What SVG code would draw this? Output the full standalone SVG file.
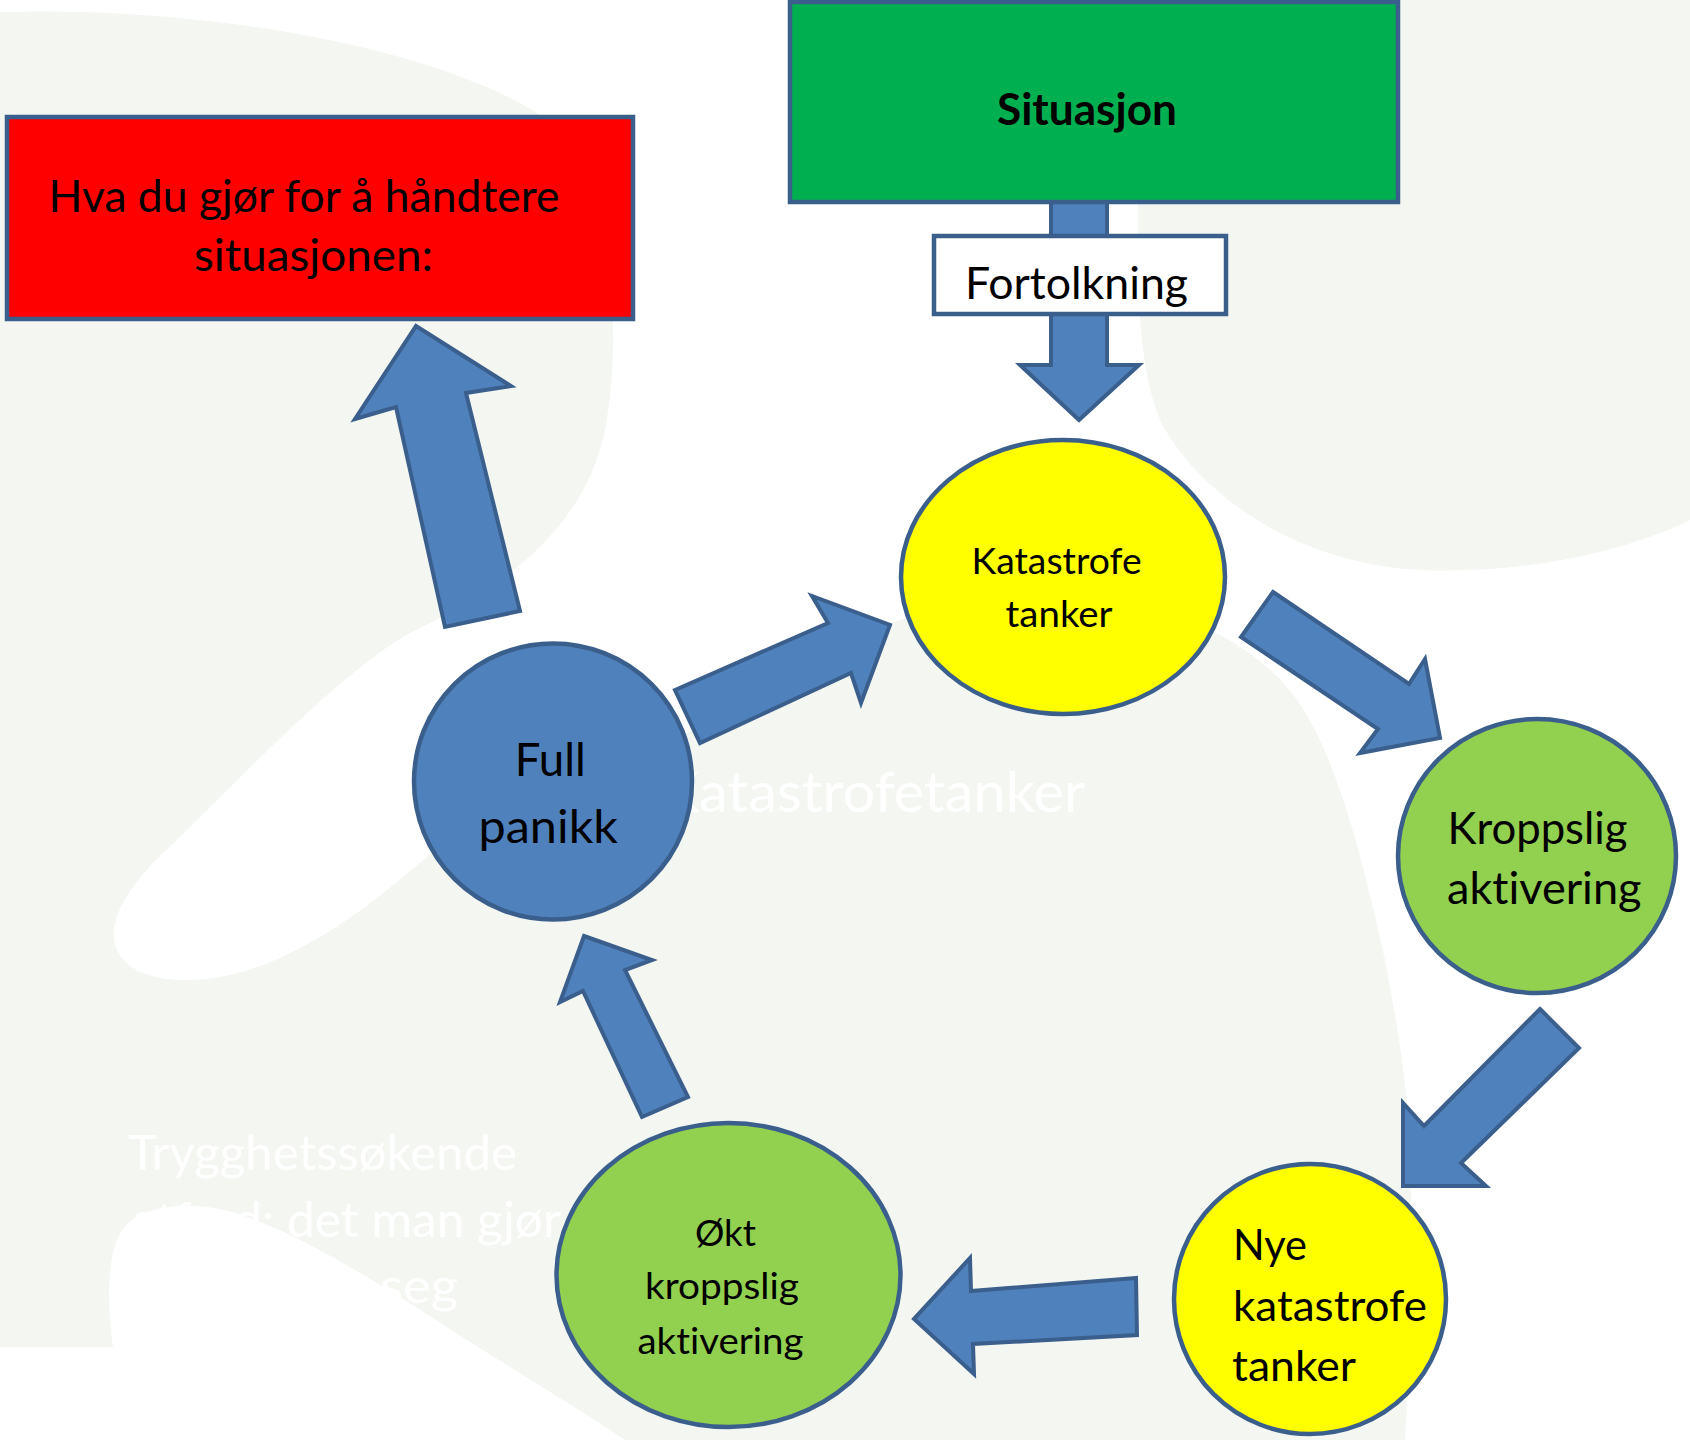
<svg xmlns="http://www.w3.org/2000/svg" width="1690" height="1440" viewBox="0 0 1690 1440">
<style>
.shape{stroke:#3b5f8c;stroke-width:4.5}
.arrow{fill:#4f81bd;stroke:#3b5f8c;stroke-width:4;stroke-linejoin:miter}
.t{font-family:Lato,"Open Sans",sans-serif;fill:#000000;font-variant-ligatures:none;font-feature-settings:"liga" 0}
.wm{font-family:Lato,"Open Sans",sans-serif;fill:#ffffff;font-variant-ligatures:none;font-feature-settings:"liga" 0}
</style>
<g id="background">
<rect x="0" y="0" width="1690" height="1440" fill="#f4f6f1"/>
<path fill="#ffffff" d="M0,0 L0,12 C200,6 430,45 540,115 C610,185 625,320 605,430 C585,530 500,590 408,634 C330,680 230,790 163,853 C125,890 100,930 122,958 C145,988 220,988 286,955 C350,925 400,880 449,838 C520,800 600,770 680,737 C770,690 850,635 920,613 C1010,585 1120,590 1200,625 C1265,655 1295,690 1315,730 C1345,790 1365,870 1385,960 C1400,1040 1410,1100 1411,1179 C1412,1280 1410,1360 1405,1440 L1690,1440 L1690,520 C1640,545 1540,575 1420,570 C1280,562 1190,480 1160,420 C1140,370 1138,300 1138,250 L1138,0 Z"/>
<path fill="#ffffff" d="M0,1347 L113,1347 C106,1300 108,1250 122,1230 C140,1205 190,1200 232,1212 C300,1232 390,1290 467,1340 C530,1380 580,1410 625,1440 L0,1440 Z"/>
<text class="wm" x="661" y="812" font-size="56" textLength="424" lengthAdjust="spacingAndGlyphs">Katastrofetanker</text>
<text class="wm" x="128" y="1170" font-size="48" textLength="389" lengthAdjust="spacingAndGlyphs">Trygghetssøkende</text>
<text class="wm" x="132" y="1237" font-size="48" textLength="429" lengthAdjust="spacingAndGlyphs">atferd: det man gjør</text>
<text class="wm" x="128" y="1303" font-size="48" textLength="330" lengthAdjust="spacingAndGlyphs">å beskytte seg</text>
</g>
<g id="connectors">
<polygon class="arrow" points="1051,200 1107,200 1107,365 1139,365 1079,420 1020,365 1051,365"/>
<polygon class="arrow" points="416,326 511,386 466,393 520,611 445,627 396,407 355,419"/>
<polygon class="arrow" points="675,690 828,623 812,596 890,625 861,703 851,673 700,743"/>
<polygon class="arrow" points="1273,592 1409,684 1425,659 1440,738 1360,753 1378,729 1241,637"/>
<polygon class="arrow" points="1540,1009 1579,1048 1461,1163 1486,1186 1403,1186 1403,1103 1424,1126"/>
<polygon class="arrow" points="1136,1278 971,1291 970,1258 914,1319 974,1374 973,1344 1137,1335"/>
<polygon class="arrow" points="584,936 652,960 625,970 688,1097 642,1117 583,991 560,1002"/>
</g>
<g id="node-handtere">
<rect class="shape" x="7" y="117" width="626" height="202" fill="#ff0000"/>
<text class="t" x="48.5" y="212" font-size="44" textLength="511" lengthAdjust="spacingAndGlyphs">Hva du gjør for å håndtere</text>
<text class="t" x="194" y="271" font-size="44" textLength="239" lengthAdjust="spacingAndGlyphs">situasjonen:</text>
</g>
<g id="node-situasjon">
<rect class="shape" x="790" y="2" width="608" height="200" fill="#00b050"/>
<text class="t" x="997" y="125" font-size="44" font-weight="bold" textLength="180" lengthAdjust="spacingAndGlyphs">Situasjon</text>
</g>
<g id="node-fortolkning">
<rect class="shape" x="934" y="236" width="292" height="78" fill="#ffffff"/>
<text class="t" x="965" y="299" font-size="44" textLength="223" lengthAdjust="spacingAndGlyphs">Fortolkning</text>
</g>
<g id="node-katastrofe">
<ellipse class="shape" cx="1063" cy="577" rx="162" ry="137" fill="#ffff00"/>
<text class="t" x="971.6" y="574" font-size="36.5" textLength="170" lengthAdjust="spacingAndGlyphs">Katastrofe</text>
<text class="t" x="1005.6" y="627" font-size="36.5" textLength="107" lengthAdjust="spacingAndGlyphs">tanker</text>
</g>
<g id="node-kroppslig">
<ellipse class="shape" cx="1537" cy="856" rx="139" ry="137" fill="#92d050"/>
<text class="t" x="1447.5" y="844" font-size="44" textLength="180" lengthAdjust="spacingAndGlyphs">Kroppslig</text>
<text class="t" x="1447" y="904" font-size="44" textLength="194.5" lengthAdjust="spacingAndGlyphs">aktivering</text>
</g>
<g id="node-nye">
<ellipse class="shape" cx="1310" cy="1299" rx="136" ry="135" fill="#ffff00"/>
<text class="t" x="1233" y="1259.5" font-size="43" textLength="74" lengthAdjust="spacingAndGlyphs">Nye</text>
<text class="t" x="1233" y="1320.5" font-size="43" textLength="194" lengthAdjust="spacingAndGlyphs">katastrofe</text>
<text class="t" x="1232" y="1381" font-size="43" textLength="124" lengthAdjust="spacingAndGlyphs">tanker</text>
</g>
<g id="node-okt">
<ellipse class="shape" cx="728.5" cy="1275" rx="172" ry="152" fill="#92d050"/>
<text class="t" x="695" y="1245.7" font-size="37.5" textLength="61" lengthAdjust="spacingAndGlyphs">Økt</text>
<text class="t" x="645" y="1299.4" font-size="37.5" textLength="154" lengthAdjust="spacingAndGlyphs">kroppslig</text>
<text class="t" x="637.5" y="1353.6" font-size="37.5" textLength="166" lengthAdjust="spacingAndGlyphs">aktivering</text>
</g>
<g id="node-panikk">
<ellipse class="shape" cx="553" cy="781.5" rx="139" ry="138" fill="#4f81bd"/>
<text class="t" x="514.7" y="776" font-size="47" textLength="71" lengthAdjust="spacingAndGlyphs">Full</text>
<text class="t" x="478.5" y="843" font-size="47" textLength="139.5" lengthAdjust="spacingAndGlyphs">panikk</text>
</g>
</svg>
